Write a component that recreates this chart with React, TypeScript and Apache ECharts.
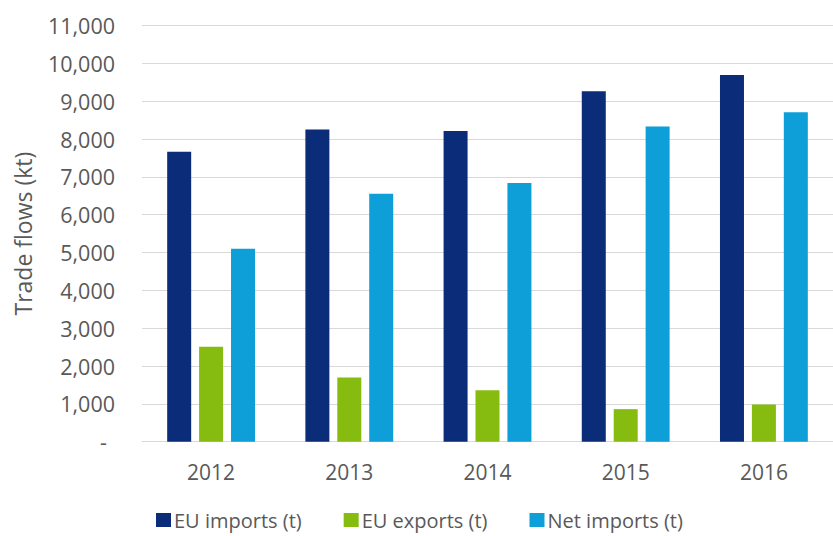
import React, { useEffect, useRef } from "react";
import * as echarts from "echarts";

const categories = ["2012", "2013", "2014", "2015", "2016"];
const euImports = [7660, 8250, 8210, 9260, 9690];
const euExports = [2510, 1700, 1360, 860, 980];
const netImports = [5100, 6550, 6840, 8330, 8710];
const seriesNames = ["EU imports (t)", "EU exports (t)", "Net imports (t)"];
const colors = ["#0b2c79", "#86bc10", "#0e9fd9"];

const FONT = "'Open Sans', 'Segoe UI', sans-serif";
const GREY = "#595959";

export default function App() {
  const ref = useRef<HTMLDivElement>(null);
  useEffect(() => {
    document.body.style.margin = "0";
    const chart = echarts.init(ref.current!, null, { renderer: "svg" });
    const fmt = (v: number) =>
      v === 0 ? "{d|-}" : v.toLocaleString("en-US");
    chart.setOption({
      animation: false,
      backgroundColor: "#ffffff",
      textStyle: { fontFamily: FONT },
      grid: { left: 142, top: 25.5, width: 699, height: 416.2 },
      legend: {
        top: 510,
        left: 156,
        padding: 0,
        itemWidth: 15,
        itemHeight: 14,
        itemGap: 42,
        icon: "rect",
        textStyle: { fontFamily: FONT, fontSize: 20, lineHeight: 20, color: GREY, padding: [0, 0, 0, -2] },
        data: seriesNames,
      },
      xAxis: {
        type: "category",
        data: categories,
        axisLine: { lineStyle: { color: "#d9d9d9" } },
        axisTick: { show: false },
        axisLabel: { color: GREY, fontSize: 21, margin: 20, fontFamily: FONT },
      },
      yAxis: {
        type: "value",
        min: 0,
        max: 11000,
        interval: 1000,
        name: "Trade flows (kt)",
        nameLocation: "middle",
        nameGap: 108,
        nameTextStyle: { color: GREY, fontSize: 23, fontFamily: FONT },
        axisLine: { show: false },
        axisTick: { show: false },
        splitLine: { lineStyle: { color: "#d9d9d9", width: 1 } },
        axisLabel: {
          color: GREY,
          fontSize: 21.5,
          margin: 27,
          fontFamily: FONT,
          formatter: fmt,
          rich: { d: { color: GREY, fontSize: 21.5, fontFamily: FONT, padding: [0, 8, 0, 0] } },
        },
      },
      series: [
        { name: seriesNames[0], type: "bar", data: euImports, barWidth: 24, barGap: "33%", itemStyle: { color: colors[0] } },
        { name: seriesNames[1], type: "bar", data: euExports, barWidth: 24, barGap: "33%", itemStyle: { color: colors[1] } },
        { name: seriesNames[2], type: "bar", data: netImports, barWidth: 24, barGap: "33%", itemStyle: { color: colors[2] } },
      ],
    });
    return () => chart.dispose();
  }, []);
  return <div ref={ref} style={{ width: 833, height: 536 }} />;
}
